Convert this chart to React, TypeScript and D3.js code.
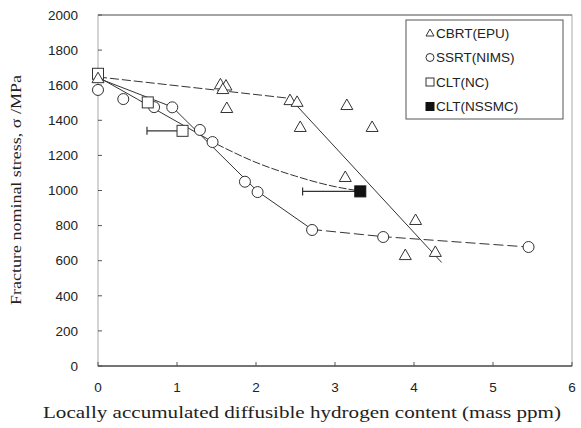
import React from "react";
import * as d3 from "d3";

type P = [number, number];

const cbrt: P[] = [
  [0, 1640], [1.55, 1605], [1.62, 1598], [1.58, 1578], [1.63, 1470],
  [2.43, 1515], [2.52, 1505], [2.56, 1362], [3.15, 1487], [3.47, 1362],
  [3.13, 1077], [4.02, 832], [3.89, 632], [4.27, 650],
];
const ssrt: P[] = [
  [0, 1573], [0.32, 1521], [0.71, 1475], [0.94, 1474], [1.29, 1345],
  [1.45, 1276], [1.86, 1050], [2.02, 991], [2.71, 775], [3.61, 735], [5.45, 678],
];
const cltNC: P[] = [[0, 1665], [0.63, 1502], [1.07, 1340]];
const cltNCErrLow: number[] = [0, 0, 0.62];
const cltNSSMC: P[] = [[3.32, 995]];
const cltNSSMCErrLow: number[] = [2.59];

const cbrtFitDashed: P[] = [[0, 1647], [2.43, 1525]];
const cbrtFitSolid: P[] = [[2.43, 1525], [4.35, 590]];
const ssrtFitSolid: P[] = [[0, 1640], [0.94, 1476], [2.02, 995], [2.71, 778]];
const ssrtFitDashed: P[] = [[2.71, 778], [3.61, 737], [5.45, 678]];
const cltFitSolid: P[] = [[0, 1647], [0.5, 1520], [1.0, 1392], [1.5, 1265]];
const cltFitDashed: P[] = [[1.5, 1265], [2.0, 1160], [2.5, 1082], [3.0, 1022], [3.32, 997]];

const xTicks = [0, 1, 2, 3, 4, 5, 6];
const yTicks = [0, 200, 400, 600, 800, 1000, 1200, 1400, 1600, 1800, 2000];
const legendLabels = ["CBRT(EPU)", "SSRT(NIMS)", "CLT(NC)", "CLT(NSSMC)"];

const W = 581, H = 428;
const L = 98, R = 572, T = 15, B = 366;

export default function App() {
  const x = d3.scaleLinear().domain([0, 6]).range([L, R]);
  const y = d3.scaleLinear().domain([0, 2000]).range([B, T]);
  const line = d3.line<P>().x(d => x(d[0])).y(d => y(d[1]));
  const curve = d3.line<P>().x(d => x(d[0])).y(d => y(d[1])).curve(d3.curveMonotoneX);
  const ink = "#333";
  const tickFont = "'Liberation Sans', Arial, sans-serif";

  const tri = (cx: number, cy: number, s = 6) =>
    `M${cx},${cy - s}L${cx + s},${cy + s * 0.75}L${cx - s},${cy + s * 0.75}Z`;

  return (
    <svg width={W} height={H} style={{ position: "absolute", left: 0, top: 0, background: "#fff" }}>
      <rect x={L} y={T} width={R - L} height={B - T} fill="none" stroke="#aaa" strokeWidth={1} />
      <line x1={L} x2={R} y1={B} y2={B} stroke="#555" strokeWidth={1.5} />
      <line x1={L} x2={R} y1={T} y2={T} stroke="#777" strokeWidth={1.2} />
      {yTicks.map(t => (
        <g key={"y" + t}>
          <line x1={L} x2={L + 4} y1={y(t)} y2={y(t)} stroke="#555" />
          <text x={78} y={y(t)} dy="0.35em" textAnchor="end" fontFamily={tickFont} fontSize={13.5} fill="#222">{t}</text>
        </g>
      ))}
      {xTicks.map(t => (
        <g key={"x" + t}>
          <line x1={x(t)} x2={x(t)} y1={B} y2={B - 4} stroke="#555" />
          <text x={x(t)} y={387} dy="0.35em" textAnchor="middle" fontFamily={tickFont} fontSize={13.5} fill="#222">{t}</text>
        </g>
      ))}
      <text x={302} y={412} dy="0.35em" textAnchor="middle" fontFamily="'Liberation Serif', 'Times New Roman', serif" fontSize={16} fill="#222" textLength={518} lengthAdjust="spacingAndGlyphs">
        Locally accumulated diffusible hydrogen content (mass ppm)
      </text>
      <text transform={`translate(16,190) rotate(-90)`} dy="0.35em" textAnchor="middle" fontFamily="'Liberation Serif', 'Times New Roman', serif" fontSize={14} fill="#222" textLength={230} lengthAdjust="spacingAndGlyphs">
        Fracture nominal stress, σ /MPa
      </text>

      {/* fit lines */}
      <path d={line(cbrtFitDashed) || ""} fill="none" stroke={ink} strokeWidth={1} strokeDasharray="9,3" />
      <path d={line(cbrtFitSolid) || ""} fill="none" stroke={ink} strokeWidth={1} />
      <path d={line(ssrtFitSolid) || ""} fill="none" stroke={ink} strokeWidth={1} />
      <path d={line(ssrtFitDashed) || ""} fill="none" stroke={ink} strokeWidth={1} strokeDasharray="10,4" />
      <path d={curve(cltFitSolid) || ""} fill="none" stroke={ink} strokeWidth={1} />
      <path d={curve(cltFitDashed) || ""} fill="none" stroke={ink} strokeWidth={1} strokeDasharray="8,2" />

      {/* error bars */}
      {cltNC.map((d, i) => cltNCErrLow[i] > 0 ? (
        <g key={"e" + i}>
          <line x1={x(cltNCErrLow[i])} x2={x(d[0])} y1={y(d[1])} y2={y(d[1])} stroke={ink} strokeWidth={1.2} />
          <line x1={x(cltNCErrLow[i])} x2={x(cltNCErrLow[i])} y1={y(d[1]) - 4} y2={y(d[1]) + 4} stroke={ink} strokeWidth={1.2} />
        </g>
      ) : null)}
      {cltNSSMC.map((d, i) => (
        <g key={"e2" + i}>
          <line x1={x(cltNSSMCErrLow[i])} x2={x(d[0])} y1={y(d[1])} y2={y(d[1])} stroke={ink} strokeWidth={1.2} />
          <line x1={x(cltNSSMCErrLow[i])} x2={x(cltNSSMCErrLow[i])} y1={y(d[1]) - 4} y2={y(d[1]) + 4} stroke={ink} strokeWidth={1.2} />
        </g>
      ))}

      {/* markers */}
      {ssrt.map((d, i) => (
        <circle key={"c" + i} cx={x(d[0])} cy={y(d[1])} r={5.5} fill="#fff" stroke={ink} strokeWidth={1} />
      ))}
      {cltNC.map((d, i) => (
        <rect key={"s" + i} x={x(d[0]) - 5.5} y={y(d[1]) - 5.5} width={11} height={11} fill="#fff" stroke={ink} strokeWidth={1} />
      ))}
      {cbrt.map((d, i) => (
        <path key={"t" + i} d={tri(x(d[0]), y(d[1]))} fill="#fff" stroke={ink} strokeWidth={1} />
      ))}
      {cltNSSMC.map((d, i) => (
        <rect key={"f" + i} x={x(d[0]) - 5.5} y={y(d[1]) - 5.5} width={11} height={11} fill="#111" stroke="#111" strokeWidth={1} />
      ))}

      {/* legend */}
      <rect x={406} y={20} width={157} height={99} fill="#fff" stroke="#555" strokeWidth={1} />
      {legendLabels.map((lab, i) => {
        const ly = 33 + i * 24.5;
        const mx = 430;
        let marker: React.ReactNode;
        if (i === 0) marker = <path d={tri(mx, ly, 4)} fill="#fff" stroke={ink} />;
        else if (i === 1) marker = <circle cx={mx} cy={ly} r={4} fill="#fff" stroke={ink} />;
        else if (i === 2) marker = <rect x={mx - 4} y={ly - 4} width={8} height={8} fill="#fff" stroke={ink} />;
        else marker = <rect x={mx - 4} y={ly - 4} width={8} height={8} fill="#111" stroke="#111" />;
        return (
          <g key={lab}>
            {marker}
            <text x={436} y={ly} dy="0.35em" fontFamily={tickFont} fontSize={13.5} fill="#222">{lab}</text>
          </g>
        );
      })}
    </svg>
  );
}
